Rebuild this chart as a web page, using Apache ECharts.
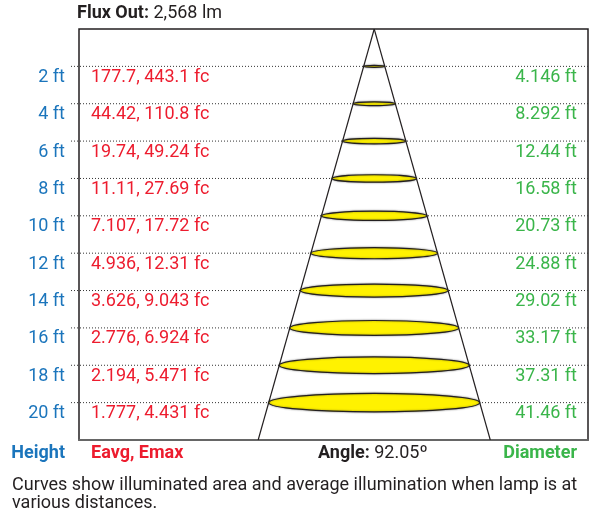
<!DOCTYPE html>
<html>
<head>
<meta charset="utf-8">
<script src="https://cdn.jsdelivr.net/npm/echarts@6/dist/echarts.min.js"></script>
<style>
  html, body { margin: 0; padding: 0; background: #fff; }
  #chart { width: 589px; height: 516px; }
</style>
</head>
<body>
<div id="chart"></div>
<script>
// photometric table, one row per mounting height
const heights = [2, 4, 6, 8, 10, 12, 14, 16, 18, 20]
const eavg = [177.7, 44.42, 19.74, 11.11, 7.107, 4.936, 3.626, 2.776, 2.194, 1.777]
const emax = [443.1, 110.8, 49.24, 27.69, 17.72, 12.31, 9.043, 6.924, 5.471, 4.431]
const diameters = [4.146, 8.292, 12.44, 16.58, 20.73, 24.88, 29.02, 33.17, 37.31, 41.46]
const beamAngle = 92.05
const fluxOut = '2,568'
const maxHeight = 22

const blue = '#1b75bc'
const red = '#ed1c2e'
const green = '#3ab54a'
const ink = '#231f20'
const font = 'Roboto, "Liberation Sans", sans-serif'
const fs = 18

const rows = heights.map(function(h, i) {
  return [h, eavg[i], emax[i], diameters[i]]
})

const chart = echarts.init(document.getElementById('chart'))

function rowItem(params, api) {
  const h = api.value(0)
  const dia = api.value(3)
  const p = api.coord([0, h])
  const left = api.coord([-58, h])[0]
  const right = api.coord([42, h])[0]
  const rx = api.size([dia / 2, 0])[0]
  const ry = rx * 0.088
  return {
    type: 'group',
    children: [
      {
        type: 'line',
        shape: {x1: left - 8, y1: p[1], x2: right, y2: p[1]},
        style: {stroke: '#333', lineWidth: 1, lineDash: [1, 2]},
        z2: 1
      },
      {
        type: 'ellipse',
        shape: {cx: p[0], cy: p[1], rx: rx, ry: ry},
        style: {fill: '#fff200', stroke: ink, lineWidth: 1.2, shadowBlur: 2, shadowColor: 'rgba(0,0,0,0.45)'},
        z2: 10
      },
      {
        type: 'text',
        x: left - 14, y: p[1] + 11,
        style: {text: h + ' ft', fill: blue, font: fs + 'px ' + font, align: 'right', verticalAlign: 'middle'},
        z2: 5
      },
      {
        type: 'text',
        x: left + 12, y: p[1] + 11,
        style: {text: api.value(1) + ', ' + api.value(2) + ' fc', fill: red, font: fs + 'px ' + font, align: 'left', verticalAlign: 'middle'},
        z2: 5
      },
      {
        type: 'text',
        x: right - 11, y: p[1] + 11,
        style: {text: dia + ' ft', fill: green, font: fs + 'px ' + font, align: 'right', verticalAlign: 'middle'},
        z2: 5
      }
    ]
  }
}

function coneItem(params, api) {
  const k = Math.tan(beamAngle / 2 * Math.PI / 180)
  const apex = api.coord([0, 0])
  const l = api.coord([-maxHeight * k, maxHeight])
  const r = api.coord([maxHeight * k, maxHeight])
  return {
    type: 'group',
    children: [
      {type: 'line', shape: {x1: apex[0], y1: apex[1], x2: l[0], y2: l[1]}, style: {stroke: ink, lineWidth: 1.2}},
      {type: 'line', shape: {x1: apex[0], y1: apex[1], x2: r[0], y2: r[1]}, style: {stroke: ink, lineWidth: 1.2}}
    ]
  }
}

const option = {
  animation: false,
  backgroundColor: '#fff',
  textStyle: {fontFamily: font},
  grid: {
    left: 79,
    right: 1,
    top: 29,
    bottom: 76,
    show: true,
    borderColor: ink,
    borderWidth: 1.5,
    backgroundColor: 'transparent'
  },
  xAxis: {
    type: 'value',
    min: -58,
    max: 42,
    axisLine: {show: true, onZero: false, lineStyle: {color: '#666', width: 2}},
    axisTick: {show: false},
    axisLabel: {show: false},
    splitLine: {show: false}
  },
  yAxis: {
    type: 'value',
    min: 0,
    max: maxHeight,
    interval: 2,
    inverse: true,
    axisLine: {show: false},
    axisTick: {show: false},
    axisLabel: {show: false},
    splitLine: {show: false}
  },
  graphic: [
    {
      type: 'text', left: 77, top: 4,
      style: {
        text: '{b|Flux Out:} ' + fluxOut + ' lm',
        font: fs + 'px ' + font, fill: ink,
        rich: {b: {fontWeight: 'bold', fontSize: fs, fontFamily: font, fill: ink}}
      }
    },
    {type: 'text', right: 524, top: 444, style: {text: 'Height', font: 'bold ' + fs + 'px ' + font, fill: blue}},
    {type: 'text', left: 91, top: 444, style: {text: 'Eavg, Emax', font: 'bold ' + fs + 'px ' + font, fill: red}},
    {
      type: 'text', left: 318, top: 444,
      style: {
        text: '{b|Angle:} ' + beamAngle.toFixed(2) + 'º',
        font: fs + 'px ' + font, fill: ink,
        rich: {b: {fontWeight: 'bold', fontSize: fs, fontFamily: font, fill: ink}}
      }
    },
    {type: 'text', right: 12, top: 444, style: {text: 'Diameter', font: 'bold ' + fs + 'px ' + font, fill: green}},
    {
      type: 'text', left: 12, top: 476,
      style: {
        text: 'Curves show illuminated area and average illumination when lamp is at\nvarious distances.',
        font: fs + 'px ' + font, fill: ink, lineHeight: 18
      }
    }
  ],
  series: [
    {
      type: 'custom',
      renderItem: coneItem,
      data: [[0]],
      clip: true,
      silent: true,
      z: 2
    },
    {
      type: 'custom',
      renderItem: rowItem,
      data: rows,
      clip: false,
      silent: true,
      z: 3
    }
  ]
}

chart.setOption(option)
</script>
</body>
</html>
